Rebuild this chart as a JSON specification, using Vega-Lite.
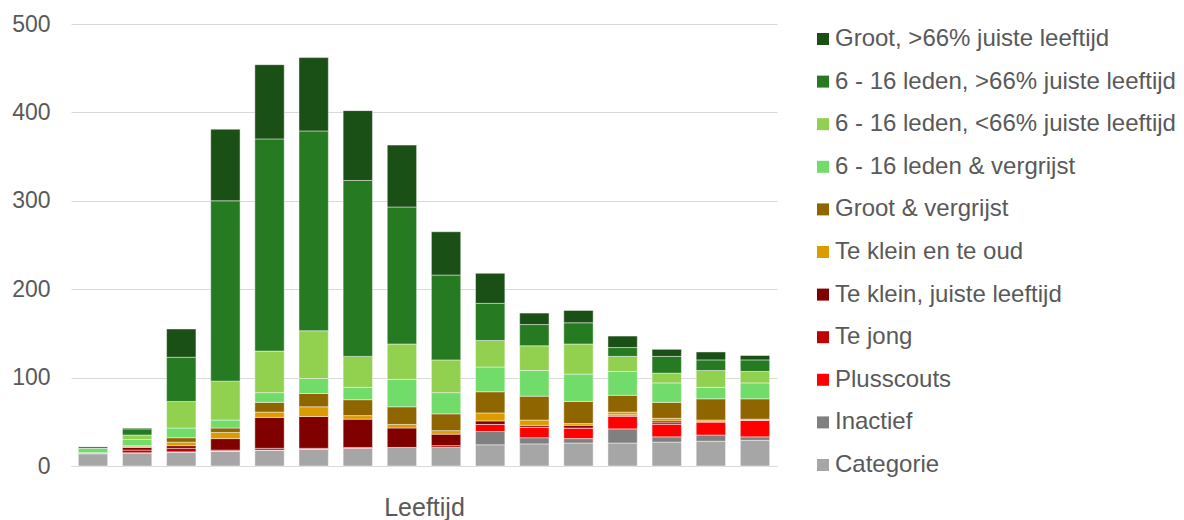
{
  "$schema": "https://vega.github.io/schema/vega-lite/v6.json",
  "width": 706,
  "height": 442,
  "autosize": {"type": "none"},
  "padding": {"left": 71, "top": 24, "right": 407, "bottom": 54},
  "background": "white",
  "datasets": {
    "cats": [
      {"cat": "Categorie", "k": 1},
      {"cat": "Inactief", "k": 2},
      {"cat": "Plusscouts", "k": 3},
      {"cat": "Te jong", "k": 4},
      {"cat": "Te klein, juiste leeftijd", "k": 5},
      {"cat": "Te klein en te oud", "k": 6},
      {"cat": "Groot & vergrijst", "k": 7},
      {"cat": "6 - 16 leden & vergrijst", "k": 8},
      {"cat": "6 - 16 leden, <66% juiste leeftijd", "k": 9},
      {"cat": "6 - 16 leden, >66% juiste leeftijd", "k": 10},
      {"cat": "Groot, >66% juiste leeftijd", "k": 11}
    ]
  },
  "data": {
    "values": [
      {"age": 1, "Categorie": 14, "Inactief": 0, "Plusscouts": 0, "Te jong": 1, "Te klein, juiste leeftijd": 0, "Te klein en te oud": 0, "Groot & vergrijst": 0, "6 - 16 leden & vergrijst": 5, "6 - 16 leden, <66% juiste leeftijd": 0, "6 - 16 leden, >66% juiste leeftijd": 2, "Groot, >66% juiste leeftijd": 0},
      {"age": 2, "Categorie": 15, "Inactief": 0, "Plusscouts": 0, "Te jong": 3, "Te klein, juiste leeftijd": 3, "Te klein en te oud": 1, "Groot & vergrijst": 1, "6 - 16 leden & vergrijst": 7, "6 - 16 leden, <66% juiste leeftijd": 5, "6 - 16 leden, >66% juiste leeftijd": 7, "Groot, >66% juiste leeftijd": 1},
      {"age": 3, "Categorie": 16, "Inactief": 0, "Plusscouts": 0, "Te jong": 4, "Te klein, juiste leeftijd": 3, "Te klein en te oud": 4, "Groot & vergrijst": 5, "6 - 16 leden & vergrijst": 11, "6 - 16 leden, <66% juiste leeftijd": 30, "6 - 16 leden, >66% juiste leeftijd": 50, "Groot, >66% juiste leeftijd": 32},
      {"age": 4, "Categorie": 17, "Inactief": 0, "Plusscouts": 0, "Te jong": 1, "Te klein, juiste leeftijd": 13, "Te klein en te oud": 7, "Groot & vergrijst": 5, "6 - 16 leden & vergrijst": 9, "6 - 16 leden, <66% juiste leeftijd": 44, "6 - 16 leden, >66% juiste leeftijd": 204, "Groot, >66% juiste leeftijd": 81},
      {"age": 5, "Categorie": 18, "Inactief": 0, "Plusscouts": 0, "Te jong": 2, "Te klein, juiste leeftijd": 35, "Te klein en te oud": 6, "Groot & vergrijst": 11, "6 - 16 leden & vergrijst": 11, "6 - 16 leden, <66% juiste leeftijd": 47, "6 - 16 leden, >66% juiste leeftijd": 240, "Groot, >66% juiste leeftijd": 84},
      {"age": 6, "Categorie": 19, "Inactief": 0, "Plusscouts": 0, "Te jong": 1, "Te klein, juiste leeftijd": 36, "Te klein en te oud": 11, "Groot & vergrijst": 15, "6 - 16 leden & vergrijst": 17, "6 - 16 leden, <66% juiste leeftijd": 54, "6 - 16 leden, >66% juiste leeftijd": 226, "Groot, >66% juiste leeftijd": 83},
      {"age": 7, "Categorie": 20, "Inactief": 0, "Plusscouts": 0, "Te jong": 1, "Te klein, juiste leeftijd": 32, "Te klein en te oud": 4, "Groot & vergrijst": 18, "6 - 16 leden & vergrijst": 14, "6 - 16 leden, <66% juiste leeftijd": 35, "6 - 16 leden, >66% juiste leeftijd": 199, "Groot, >66% juiste leeftijd": 79},
      {"age": 8, "Categorie": 21, "Inactief": 0, "Plusscouts": 0, "Te jong": 0, "Te klein, juiste leeftijd": 22, "Te klein en te oud": 4, "Groot & vergrijst": 20, "6 - 16 leden & vergrijst": 31, "6 - 16 leden, <66% juiste leeftijd": 40, "6 - 16 leden, >66% juiste leeftijd": 155, "Groot, >66% juiste leeftijd": 70},
      {"age": 9, "Categorie": 21, "Inactief": 0, "Plusscouts": 0, "Te jong": 2, "Te klein, juiste leeftijd": 13, "Te klein en te oud": 4, "Groot & vergrijst": 19, "6 - 16 leden & vergrijst": 24, "6 - 16 leden, <66% juiste leeftijd": 37, "6 - 16 leden, >66% juiste leeftijd": 96, "Groot, >66% juiste leeftijd": 49},
      {"age": 10, "Categorie": 24, "Inactief": 15, "Plusscouts": 8, "Te jong": 0, "Te klein, juiste leeftijd": 4, "Te klein en te oud": 9, "Groot & vergrijst": 24, "6 - 16 leden & vergrijst": 28, "6 - 16 leden, <66% juiste leeftijd": 30, "6 - 16 leden, >66% juiste leeftijd": 42, "Groot, >66% juiste leeftijd": 34},
      {"age": 11, "Categorie": 25, "Inactief": 7, "Plusscouts": 12, "Te jong": 0, "Te klein, juiste leeftijd": 2, "Te klein en te oud": 6, "Groot & vergrijst": 27, "6 - 16 leden & vergrijst": 29, "6 - 16 leden, <66% juiste leeftijd": 28, "6 - 16 leden, >66% juiste leeftijd": 24, "Groot, >66% juiste leeftijd": 13},
      {"age": 12, "Categorie": 26, "Inactief": 5, "Plusscouts": 12, "Te jong": 0, "Te klein, juiste leeftijd": 3, "Te klein en te oud": 2, "Groot & vergrijst": 25, "6 - 16 leden & vergrijst": 31, "6 - 16 leden, <66% juiste leeftijd": 34, "6 - 16 leden, >66% juiste leeftijd": 24, "Groot, >66% juiste leeftijd": 14},
      {"age": 13, "Categorie": 26, "Inactief": 16, "Plusscouts": 14, "Te jong": 1, "Te klein, juiste leeftijd": 1, "Te klein en te oud": 3, "Groot & vergrijst": 19, "6 - 16 leden & vergrijst": 27, "6 - 16 leden, <66% juiste leeftijd": 17, "6 - 16 leden, >66% juiste leeftijd": 10, "Groot, >66% juiste leeftijd": 13},
      {"age": 14, "Categorie": 27, "Inactief": 6, "Plusscouts": 14, "Te jong": 2, "Te klein, juiste leeftijd": 2, "Te klein en te oud": 3, "Groot & vergrijst": 18, "6 - 16 leden & vergrijst": 22, "6 - 16 leden, <66% juiste leeftijd": 11, "6 - 16 leden, >66% juiste leeftijd": 19, "Groot, >66% juiste leeftijd": 8},
      {"age": 15, "Categorie": 28, "Inactief": 7, "Plusscouts": 15, "Te jong": 0, "Te klein, juiste leeftijd": 0, "Te klein en te oud": 2, "Groot & vergrijst": 24, "6 - 16 leden & vergrijst": 13, "6 - 16 leden, <66% juiste leeftijd": 19, "6 - 16 leden, >66% juiste leeftijd": 12, "Groot, >66% juiste leeftijd": 9},
      {"age": 16, "Categorie": 29, "Inactief": 4, "Plusscouts": 19, "Te jong": 0, "Te klein, juiste leeftijd": 0, "Te klein en te oud": 1, "Groot & vergrijst": 23, "6 - 16 leden & vergrijst": 18, "6 - 16 leden, <66% juiste leeftijd": 13, "6 - 16 leden, >66% juiste leeftijd": 13, "Groot, >66% juiste leeftijd": 5}
    ]
  },
  "transform": [
    {"fold": ["Categorie", "Inactief", "Plusscouts", "Te jong", "Te klein, juiste leeftijd", "Te klein en te oud", "Groot & vergrijst", "6 - 16 leden & vergrijst", "6 - 16 leden, <66% juiste leeftijd", "6 - 16 leden, >66% juiste leeftijd", "Groot, >66% juiste leeftijd"], "as": ["cat", "v"]},
    {"lookup": "cat", "from": {"data": {"name": "cats"}, "key": "cat", "fields": ["k"]}}
  ],
  "mark": {"type": "bar", "stroke": "white", "strokeWidth": 0.75, "strokeOpacity": 0.6},
  "encoding": {
    "x": {
      "field": "age", "type": "ordinal",
      "scale": {"paddingInner": 0.335, "paddingOuter": 0.166},
      "axis": {"labels": false, "ticks": false, "domain": true, "domainColor": "#d9d9d9", "domainWidth": 1, "title": "Leeftijd", "titleFontSize": 25, "titleFontWeight": "normal", "titleColor": "#595959", "titleFont": "Liberation Sans", "titlePadding": 29, "grid": false}
    },
    "y": {
      "field": "v", "type": "quantitative", "stack": "zero",
      "scale": {"domain": [0, 500], "nice": false},
      "axis": {"values": [0, 100, 200, 300, 400, 500], "title": null, "domain": false, "ticks": false, "grid": true, "gridColor": "#d9d9d9", "gridWidth": 1, "labelFontSize": 23, "labelColor": "#595959", "labelFont": "Liberation Sans", "labelPadding": 21}
    },
    "order": {"field": "k", "type": "quantitative", "sort": "ascending"},
    "color": {
      "field": "cat", "type": "nominal",
      "scale": {
        "domain": ["Groot, >66% juiste leeftijd", "6 - 16 leden, >66% juiste leeftijd", "6 - 16 leden, <66% juiste leeftijd", "6 - 16 leden & vergrijst", "Groot & vergrijst", "Te klein en te oud", "Te klein, juiste leeftijd", "Te jong", "Plusscouts", "Inactief", "Categorie"],
        "range": ["#1a5016", "#267b22", "#92d050", "#72dc6b", "#8f6500", "#dc9c00", "#800000", "#c00000", "#ff0000", "#808080", "#a6a6a6"]
      },
      "legend": {
        "title": null, "orient": "none", "legendX": 740, "legendY": 3,
        "symbolType": "square", "symbolSize": 144, "symbolStrokeWidth": 0,
        "labelFontSize": 24, "labelColor": "#595959", "labelFont": "Liberation Sans",
        "labelOffset": 0, "rowPadding": 18.6, "labelLimit": 400
      }
    }
  },
  "config": {"view": {"stroke": null}}
}
